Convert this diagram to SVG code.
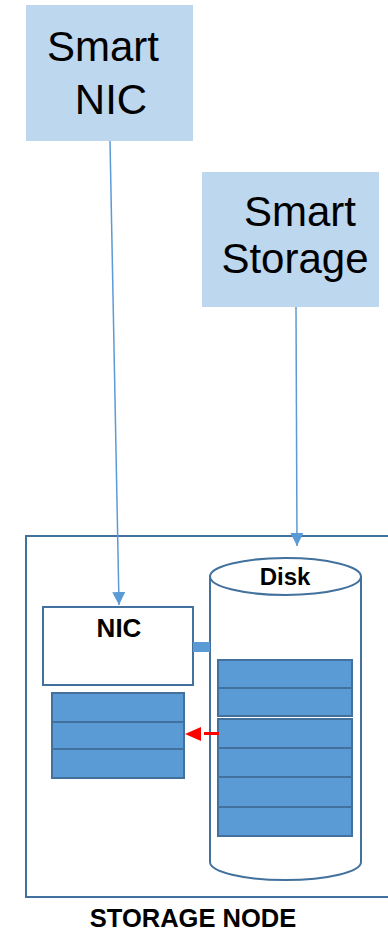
<svg xmlns="http://www.w3.org/2000/svg" width="388" height="933" viewBox="0 0 388 933">
  <style>
    .callout { fill: #BDD7EE; }
    .big { font-family: "Liberation Sans", Arial, sans-serif; font-size: 42px; fill: #000; text-anchor: middle; }
    .bold { font-family: "Liberation Sans", Arial, sans-serif; font-weight: bold; fill: #000; text-anchor: middle; }
    .frame { fill: #fff; stroke: #41719C; stroke-width: 2; }
    .block { fill: #5B9BD5; stroke: #41719C; stroke-width: 2; }
    .link { stroke: #5B9BD5; stroke-width: 1.5; fill: none; }
  </style>
  <defs>
    <marker id="blueHead" viewBox="0 0 10 10" refX="10" refY="5" markerWidth="13" markerHeight="13" markerUnits="userSpaceOnUse" orient="auto">
      <path d="M0,0 L10,5 L0,10 Z" fill="#5B9BD5"/>
    </marker>
  </defs>

  <rect width="388" height="933" fill="#fff"/>

  <!-- storage node frame -->
  <g id="storage-node">
    <rect x="26" y="536" width="380" height="361" class="frame"/>
    <text x="193" y="927" class="bold" font-size="25.5">STORAGE NODE</text>
  </g>

  <!-- disk cylinder -->
  <g id="disk">
    <path d="M210,576 L210,862 A75.5,18 0 0 0 361,862 L361,576" class="frame" stroke-width="1.8"/>
    <ellipse cx="285.5" cy="576.5" rx="75.5" ry="18.5" class="frame" stroke-width="1.8"/>
    <text x="285" y="585" class="bold" font-size="24">Disk</text>
    <rect x="218" y="660" width="134" height="28" class="block"/>
    <rect x="218" y="688" width="134" height="28" class="block"/>
    <rect x="218" y="719" width="134" height="29" class="block"/>
    <rect x="218" y="748" width="134" height="29" class="block"/>
    <rect x="218" y="777" width="134" height="30" class="block"/>
    <rect x="218" y="807" width="134" height="29" class="block"/>
  </g>

  <!-- NIC -->
  <g id="nic">
    <rect x="43" y="607" width="150" height="78" class="frame"/>
    <text x="119" y="637" class="bold" font-size="26">NIC</text>
  </g>

  <!-- NIC memory buffers -->
  <g id="nic-buffer">
    <rect x="52" y="693" width="132" height="29" class="block"/>
    <rect x="52" y="722" width="132" height="27" class="block"/>
    <rect x="52" y="749" width="132" height="29" class="block"/>
  </g>

  <!-- Smart NIC callout -->
  <g id="smart-nic">
    <rect x="26" y="5" width="167" height="136" class="callout"/>
    <text x="103" y="61" class="big">Smart</text>
    <text x="111" y="114" class="big">NIC</text>
  </g>

  <!-- Smart Storage callout -->
  <g id="smart-storage">
    <rect x="202" y="172" width="177" height="135" class="callout"/>
    <text x="300" y="226" class="big">Smart</text>
    <text x="295" y="273" class="big">Storage</text>
  </g>

  <!-- connectors -->
  <g id="connectors">
    <line x1="110" y1="141" x2="119" y2="605" class="link" marker-end="url(#blueHead)"/>
    <line x1="296" y1="307" x2="297" y2="546" class="link" marker-end="url(#blueHead)"/>
    <rect x="193" y="642" width="17" height="10" fill="#5B9BD5"/>
    <line x1="219" y1="733.5" x2="204" y2="733.5" stroke="#FF0000" stroke-width="3"/>
    <polygon points="185,734 201,727 201,741" fill="#FF0000"/>
  </g>
</svg>
